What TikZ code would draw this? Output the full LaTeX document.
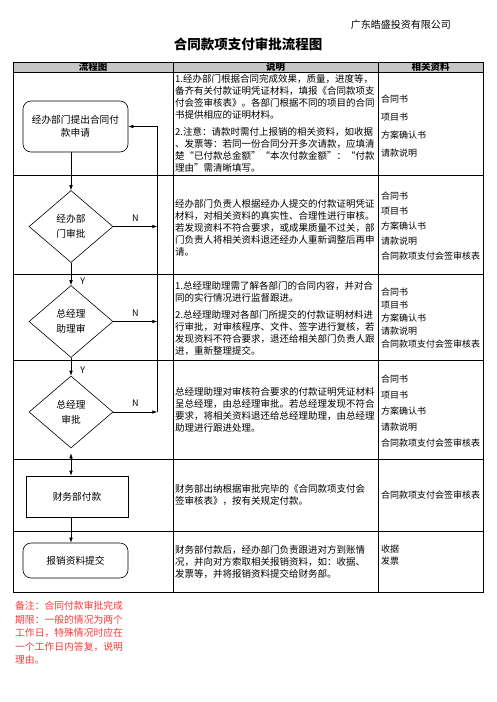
\documentclass[tikz,border=0pt]{standalone}
\usepackage{fontspec}
\setmainfont{Noto Sans CJK SC}
\usetikzlibrary{arrows.meta, shapes.geometric}

\definecolor{remark}{RGB}{250,55,55}

\begin{document}
\begin{tikzpicture}[
    x=1pt, y=-1pt,
    >={Latex[length=5pt, width=3.6pt]},
    every node/.style={inner sep=0pt},
    grid/.style={line width=0.8pt},
    head/.style={font=\fontsize{9.5}{11}\selectfont\bfseries},
    desc/.style={anchor=west, align=left, font=\fontsize{9.5}{12}\selectfont},
    docs/.style={anchor=west, align=left, font=\fontsize{9}{#1}\selectfont},
    startbox/.style={draw, line width=0.6pt, rounded corners=8pt, minimum width=105pt, align=center, font=\fontsize{9.7}{12.5}\selectfont},
    stepbox/.style={draw, line width=0.6pt, minimum width=102pt, minimum height=41pt, font=\fontsize{9.7}{12}\selectfont},
    check/.style={draw, line width=0.6pt, diamond, minimum width=84pt, minimum height=72pt, align=center, font=\fontsize{9.7}{15}\selectfont},
    flow/.style={line width=0.6pt, ->},
    yn/.style={font=\fontsize{9}{10}\selectfont},
]

    \useasboundingbox (0,0) rectangle (496,702);

    % heading
    \node[anchor=east, font=\fontsize{10}{12}\selectfont] (company) at (451,25) {广东皓盛投资有限公司};
    \node[font=\fontsize{13.5}{15}\selectfont\bfseries] (title) at (248,44) {合同款项支付审批流程图};

    % table
    \fill[gray!45] (13,62) rectangle (483,72);
    \draw[grid] (13,62) rectangle (483,592);
    \foreach \y in {72,175,274,360,459,531}
        \draw[grid] (13,\y) -- (483,\y);
    \foreach \x in {173,378}
        \draw[grid] (\x,62) -- (\x,592);

    \node[head] (h1) at (93,67)    {流程图};
    \node[head] (h2) at (275.5,67) {说明};
    \node[head] (h3) at (430.5,67) {相关资料};

    % explanations
    \node[desc] (expl1) at (175,123.5) {1.经办部门根据合同完成效果，质量，进度等，\\备齐有关付款证明凭证材料，填报《合同款项支\\付会签审核表》。各部门根据不同的项目的合同\\书提供相应的证明材料。\\[5pt]2.注意：请款时需付上报销的相关资料，如收据\\、发票等：若同一份合同分开多次请款，应填清\\楚“已付款总金额”“本次付款金额”：“付款\\理由”需清晰填写。};
    \node[desc] (expl2) at (175,228) {经办部门负责人根据经办人提交的付款证明凭证\\材料，对相关资料的真实性、合理性进行审核。\\若发现资料不符合要求，或成果质量不过关，部\\门负责人将相关资料退还经办人重新调整后再申\\请。};
    \node[desc] (expl3) at (175,318) {1.总经理助理需了解各部门的合同内容，并对合\\同的实行情况进行监督跟进。\\[5pt]2.总经理助理对各部门所提交的付款证明材料进\\行审批，对审核程序、文件、签字进行复核，若\\发现资料不符合要求，退还给相关部门负责人跟\\进，重新整理提交。};
    \node[desc] (expl4) at (175,410) {总经理助理对审核符合要求的付款证明凭证材料\\呈总经理，由总经理审批。若总经理发现不符合\\要求，将相关资料退还给总经理助理，由总经理\\助理进行跟进处理。};
    \node[desc] (expl5) at (175,495) {财务部出纳根据审批完毕的《合同款项支付会\\签审核表》，按有关规定付款。};
    \node[desc] (expl6) at (175,561.5) {财务部付款后，经办部门负责跟进对方到账情\\况，并向对方索取相关报销资料，如：收据、\\发票等，并将报销资料提交给财务部。};

    % related documents
    \node[docs=18] (files1) at (381,126)   {合同书\\项目书\\方案确认书\\请款说明};
    \node[docs=15] (files2) at (381,226)   {合同书\\项目书\\方案确认书\\请款说明\\合同款项支付会签审核表};
    \node[docs=13] (files3) at (381,318)   {合同书\\项目书\\方案确认书\\请款说明\\合同款项支付会签审核表};
    \node[docs=16] (files4) at (381,411)   {合同书\\项目书\\方案确认书\\请款说明\\合同款项支付会签审核表};
    \node[docs=12] (files5) at (381,495)   {合同款项支付会签审核表};
    \node[docs=12] (files6) at (381,555.5) {收据\\发票};

    % flow chart
    \node[startbox, minimum height=51pt] (apply)  at (75.5,126.5) {经办部门提出合同付\\款申请};
    \node[check]                         (deptok) at (71,226.5)   {经办部\\门审批};
    \node[check]                         (asstok) at (71,321.5)   {总经理\\助理审};
    \node[check]                         (gmok)   at (71,412)     {总经理\\审批};
    \node[stepbox]                       (pay)    at (77,496.5)   {财务部付款};
    \node[startbox, minimum height=35pt] (submit) at (75.5,560.5) {报销资料提交};

    \path (apply.east) ++(29,0) coordinate (back);

    \draw[flow] (apply.south -| deptok.north) -- (deptok.north);
    \draw[flow] (deptok.south) -- node[yn, pos=0.8, right=9pt] {Y} (asstok.north);
    \draw[flow] (asstok.south) -- node[yn, pos=0.7, right=9pt] {Y} (gmok.north);
    \draw[flow, <->, shorten <=5pt] (gmok.south) -- (pay.north -| gmok.south);
    \draw[flow] (pay.south -| gmok.south) -- (submit.north -| gmok.south);

    \foreach \n in {deptok, asstok, gmok}
        \draw[flow] (\n.east) -- node[yn, above=5pt] {N} (\n.east -| back);
    \draw[flow] (gmok.east -| back) -- (back) -- (apply.east);

    % remark
    \node[anchor=north west, align=left, text=remark, font=\fontsize{9.8}{13.5}\selectfont] (remark) at (15,601) {备注：合同付款审批完成\\期限：一般的情况为两个\\工作日，特殊情况时应在\\一个工作日内答复，说明\\理由。};
\end{tikzpicture}
\end{document}
